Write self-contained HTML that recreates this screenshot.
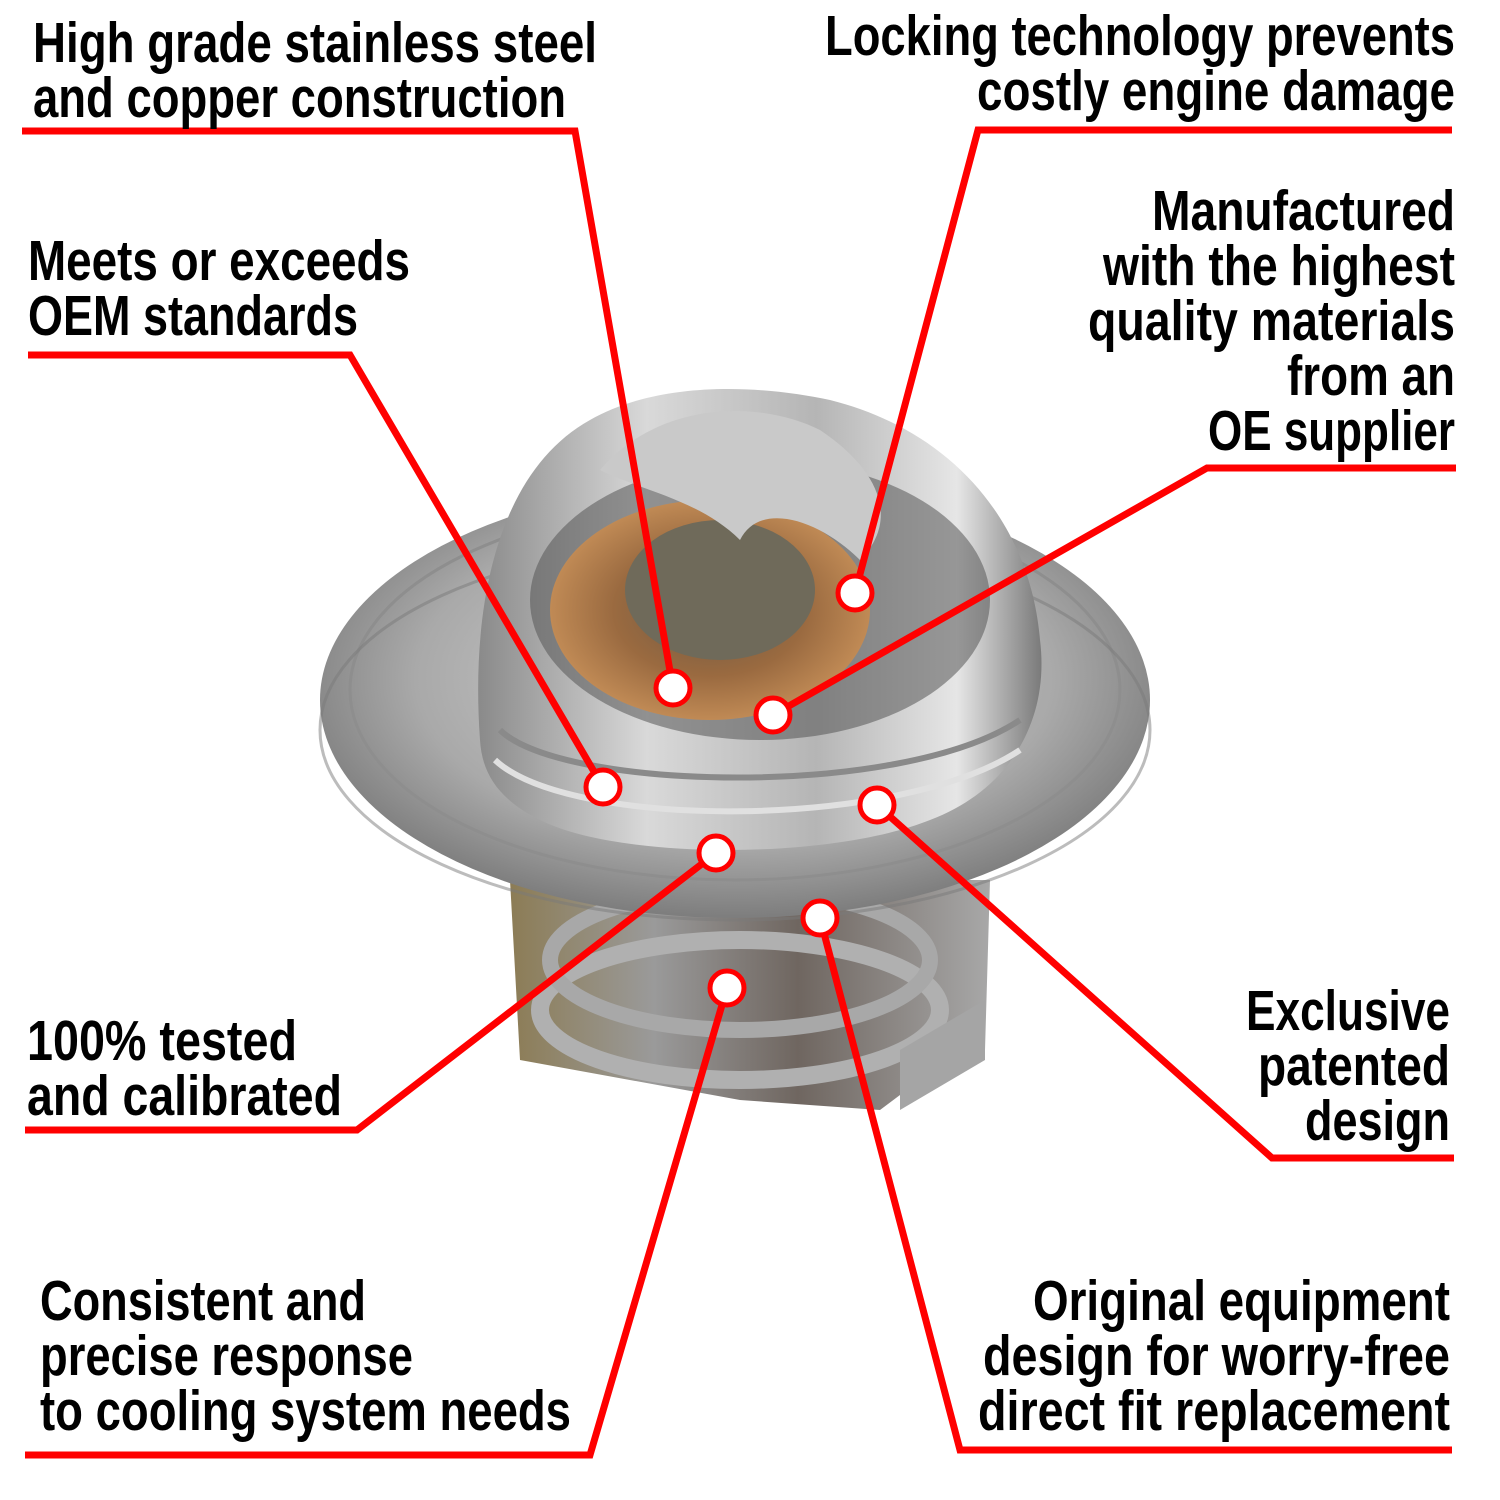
<!DOCTYPE html>
<html><head><meta charset="utf-8"><style>
html,body{margin:0;padding:0;background:#fff;}
svg{display:block}
text{font-family:"Liberation Sans Narrow","Liberation Sans",sans-serif;font-weight:bold;font-size:57px;fill:#000;}
</style></head><body>
<svg width="1500" height="1500" viewBox="0 0 1500 1500" xmlns="http://www.w3.org/2000/svg">
<defs>
<radialGradient id="fl" cx="0.5" cy="0.45" r="0.55">
<stop offset="0" stop-color="#d8d8d8"/><stop offset="0.7" stop-color="#a9a9a9"/><stop offset="1" stop-color="#7d7d7d"/></radialGradient>
<linearGradient id="dm" x1="0" y1="0" x2="1" y2="0">
<stop offset="0" stop-color="#8a8a8a"/><stop offset="0.3" stop-color="#d9d9d9"/><stop offset="0.6" stop-color="#b5b5b5"/><stop offset="0.85" stop-color="#e6e6e6"/><stop offset="1" stop-color="#7a7a7a"/></linearGradient>
<linearGradient id="bd" x1="0" y1="0" x2="1" y2="0">
<stop offset="0" stop-color="#8c7c55"/><stop offset="0.3" stop-color="#9a9a9a"/><stop offset="0.6" stop-color="#6f6660"/><stop offset="1" stop-color="#a8a8a8"/></linearGradient>
<radialGradient id="cu" cx="0.5" cy="0.5" r="0.5">
<stop offset="0" stop-color="#6e5a45"/><stop offset="0.6" stop-color="#9a6a40"/><stop offset="1" stop-color="#c08a55"/></radialGradient>
</defs>
<!-- lower body -->
<path d="M510 880 L990 880 L985 1050 L920 1080 L880 1110 L740 1100 L520 1060 Z" fill="url(#bd)"/>
<ellipse cx="740" cy="1010" rx="200" ry="70" fill="none" stroke="#b0b0b0" stroke-width="18"/>
<ellipse cx="740" cy="960" rx="190" ry="70" fill="none" stroke="#a8a8a8" stroke-width="16"/>
<path d="M900 1050 L985 1000 L985 1060 L900 1110 Z" fill="#a5a5a5"/>
<!-- flange -->
<ellipse cx="735" cy="700" rx="415" ry="218" fill="url(#fl)"/>
<ellipse cx="735" cy="690" rx="385" ry="190" fill="none" stroke="#8e8e8e" stroke-width="3"/>
<ellipse cx="735" cy="730" rx="415" ry="190" fill="none" stroke="#7a7a7a" stroke-width="3" opacity="0.5"/>
<!-- dome -->
<path d="M480 740 C470 600 500 470 590 420 C660 380 760 385 830 400 C950 430 1030 520 1040 640 C1050 720 1010 790 930 820 C830 860 620 860 540 820 C500 800 482 775 480 740 Z" fill="url(#dm)"/>
<ellipse cx="760" cy="600" rx="230" ry="140" fill="#555" opacity="0.55"/>
<ellipse cx="710" cy="610" rx="160" ry="110" fill="url(#cu)"/>
<ellipse cx="720" cy="590" rx="95" ry="70" fill="#6f6a5a"/>
<path d="M600 470 C660 400 760 400 820 430 C880 470 900 520 860 560 C820 520 760 500 740 540 C700 500 640 490 600 470 Z" fill="#c9c9c9"/>
<path d="M500 730 C560 790 900 800 1020 720" fill="none" stroke="#8a8a8a" stroke-width="6"/>
<path d="M495 760 C570 830 900 830 1020 750" fill="none" stroke="#e0e0e0" stroke-width="6"/>
<!-- connectors -->
<g fill="none" stroke="#f00" stroke-width="7" stroke-linejoin="miter">
<polyline points="22,131 575,131 673,688"/>
<polyline points="1452,130 978,130 855,593"/>
<polyline points="1456,468 1207,468 773,715"/>
<polyline points="28,355 350,355 603,787"/>
<polyline points="25,1130 357,1130 716,853"/>
<polyline points="1454,1158 1272,1158 877,805"/>
<polyline points="25,1455 590,1455 727,988"/>
<polyline points="1452,1450 960,1450 820,918"/>
</g>
<g fill="#fff" stroke="#f00" stroke-width="5">
<circle cx="673" cy="688" r="17"/><circle cx="855" cy="593" r="17"/><circle cx="773" cy="715" r="17"/>
<circle cx="603" cy="787" r="17"/><circle cx="716" cy="853" r="17"/><circle cx="877" cy="805" r="17"/>
<circle cx="727" cy="988" r="17"/><circle cx="820" cy="918" r="17"/>
</g>
<!-- texts -->
<text x="33" y="62" textLength="564" lengthAdjust="spacingAndGlyphs">High grade stainless steel</text>
<text x="33" y="117" textLength="533" lengthAdjust="spacingAndGlyphs">and copper construction</text>
<g text-anchor="end">
<text x="1455" y="55" textLength="630" lengthAdjust="spacingAndGlyphs">Locking technology prevents</text>
<text x="1455" y="110" textLength="478" lengthAdjust="spacingAndGlyphs">costly engine damage</text>
<text x="1455" y="230" textLength="303" lengthAdjust="spacingAndGlyphs">Manufactured</text>
<text x="1455" y="285" textLength="352" lengthAdjust="spacingAndGlyphs">with the highest</text>
<text x="1455" y="340" textLength="367" lengthAdjust="spacingAndGlyphs">quality materials</text>
<text x="1455" y="395" textLength="168" lengthAdjust="spacingAndGlyphs">from an</text>
<text x="1455" y="450" textLength="247" lengthAdjust="spacingAndGlyphs">OE supplier</text>
<text x="1450" y="1030" textLength="204" lengthAdjust="spacingAndGlyphs">Exclusive</text>
<text x="1450" y="1085" textLength="192" lengthAdjust="spacingAndGlyphs">patented</text>
<text x="1450" y="1140" textLength="145" lengthAdjust="spacingAndGlyphs">design</text>
<text x="1450" y="1320" textLength="417" lengthAdjust="spacingAndGlyphs">Original equipment</text>
<text x="1450" y="1375" textLength="467" lengthAdjust="spacingAndGlyphs">design for worry-free</text>
<text x="1450" y="1430" textLength="472" lengthAdjust="spacingAndGlyphs">direct fit replacement</text>
</g>
<text x="28" y="280" textLength="382" lengthAdjust="spacingAndGlyphs">Meets or exceeds</text>
<text x="28" y="335" textLength="330" lengthAdjust="spacingAndGlyphs">OEM standards</text>
<text x="27" y="1060" textLength="270" lengthAdjust="spacingAndGlyphs">100% tested</text>
<text x="27" y="1115" textLength="315" lengthAdjust="spacingAndGlyphs">and calibrated</text>
<text x="40" y="1320" textLength="326" lengthAdjust="spacingAndGlyphs">Consistent and</text>
<text x="40" y="1375" textLength="373" lengthAdjust="spacingAndGlyphs">precise response</text>
<text x="40" y="1430" textLength="531" lengthAdjust="spacingAndGlyphs">to cooling system needs</text>
</svg>
</body></html>
